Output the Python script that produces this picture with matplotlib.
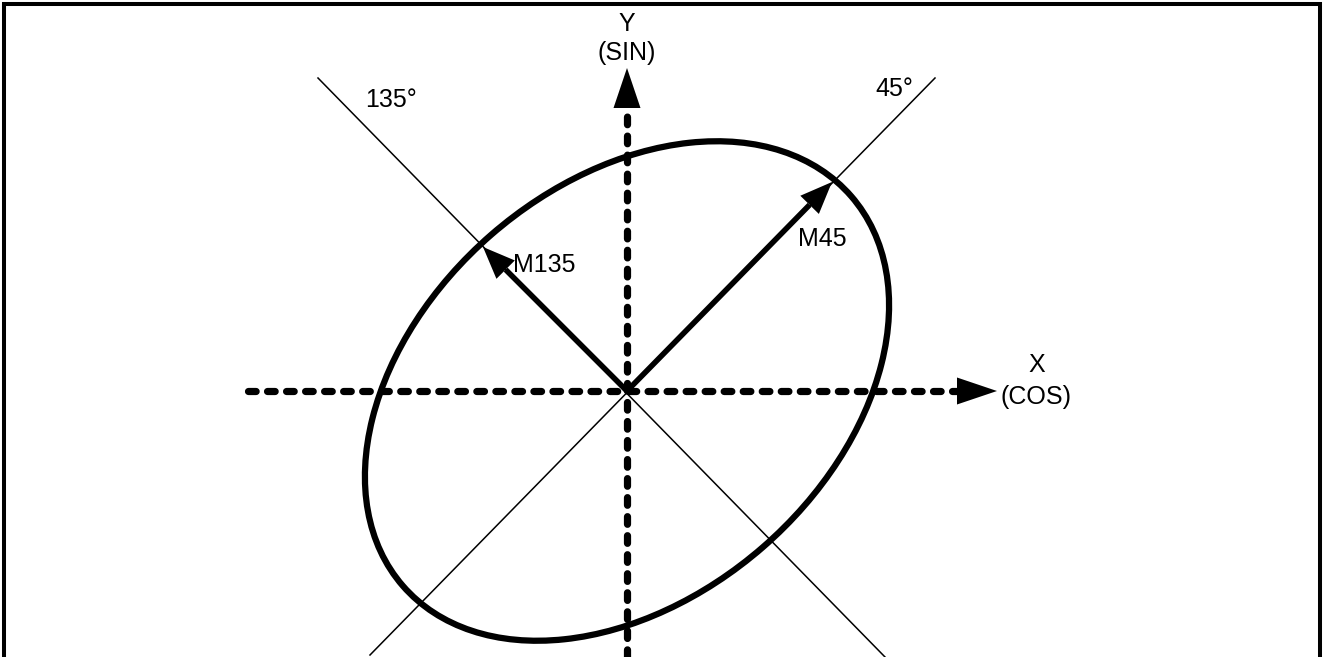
import numpy as np
import matplotlib
matplotlib.use("Agg")
import matplotlib.pyplot as plt
from matplotlib.patches import Ellipse, Polygon

# ----------------------------
# Diagram values (pixel units, origin at the axes crossing, y up)
# ----------------------------
ellipse_axes = [297, 207]          # semi-major, semi-minor
ellipse_tilt = 41                  # degrees
vectors = {"M45": (205, 209), "M135": (-144, 144)}
vector_labels = {"M45": (195, 152), "M135": (-83, 126)}
diag_lines = {"45°": [(308, 313), (-257, -264)], "135°": [(-309, 313), (258, -266)]}
diag_labels = {"45°": (267, 302), "135°": (-236, 291)}
x_axis = [(-379, 0), (370, 0)]     # tail, arrow tip
y_axis = [(0, -266), (0, 323)]
x_label = ["X", "(COS)"]
y_label = ["Y", "(SIN)"]

plt.rcParams['font.family'] = ['Liberation Sans', 'DejaVu Sans']
plt.rcParams['lines.scale_dashes'] = False

fig = plt.figure(figsize=(13.27, 6.57), dpi=100)
ax = fig.add_axes([0, 0, 1, 1])
ax.set_xlim(-627, 700)
ax.set_ylim(-266, 391)
ax.axis("off")

# frame (left, top, right)
ax.plot([-623, -623, 693, 693], [-266, 387, 387, -266], color="k", lw=2.9,
        solid_joinstyle="miter")

# thin 45 / 135 degree lines
for name, (p0, p1) in diag_lines.items():
    ax.plot([p0[0], p1[0]], [p0[1], p1[1]], color="k", lw=1.1)
    ax.text(*diag_labels[name], name, fontsize=18, ha="center", va="center")


def head(tip, tail, length=40, half=13.5):
    tip = np.array(tip, float)
    d = tip - np.array(tail, float)
    d /= np.linalg.norm(d)
    n = np.array([-d[1], d[0]])
    base = tip - d * length
    ax.add_patch(Polygon([tip, base + n * half, base - n * half], closed=True,
                         color="k", lw=0, zorder=4))
    return base


# dashed axes with arrows
for (tail, tip) in [x_axis, y_axis]:
    base = head(tip, tail)
    ax.plot([tail[0], base[0]], [tail[1], base[1]], color="k", lw=5.2,
            linestyle=(0, (5.5, 8.2)), dash_capstyle="round", zorder=3)

ax.text(410, 26, x_label[0], fontsize=18, ha="center", va="center")
ax.text(409, -6, x_label[1], fontsize=18, ha="center", va="center")
ax.text(0, 367, y_label[0], fontsize=18, ha="center", va="center")
ax.text(0, 338, y_label[1], fontsize=18, ha="center", va="center")

# ellipse
ax.add_patch(Ellipse((0, 0), 2 * ellipse_axes[0], 2 * ellipse_axes[1],
                     angle=ellipse_tilt, fill=False, ec="k", lw=4.5, zorder=2))

# vectors M45, M135
for name, tip in vectors.items():
    base = head(tip, (0, 0), length=32, half=13)
    ax.plot([0, base[0]], [0, base[1]], color="k", lw=4, solid_capstyle="butt",
            zorder=3)
    ax.text(*vector_labels[name], name, fontsize=18, ha="center", va="center")

fig.savefig("out.png", dpi=100)
